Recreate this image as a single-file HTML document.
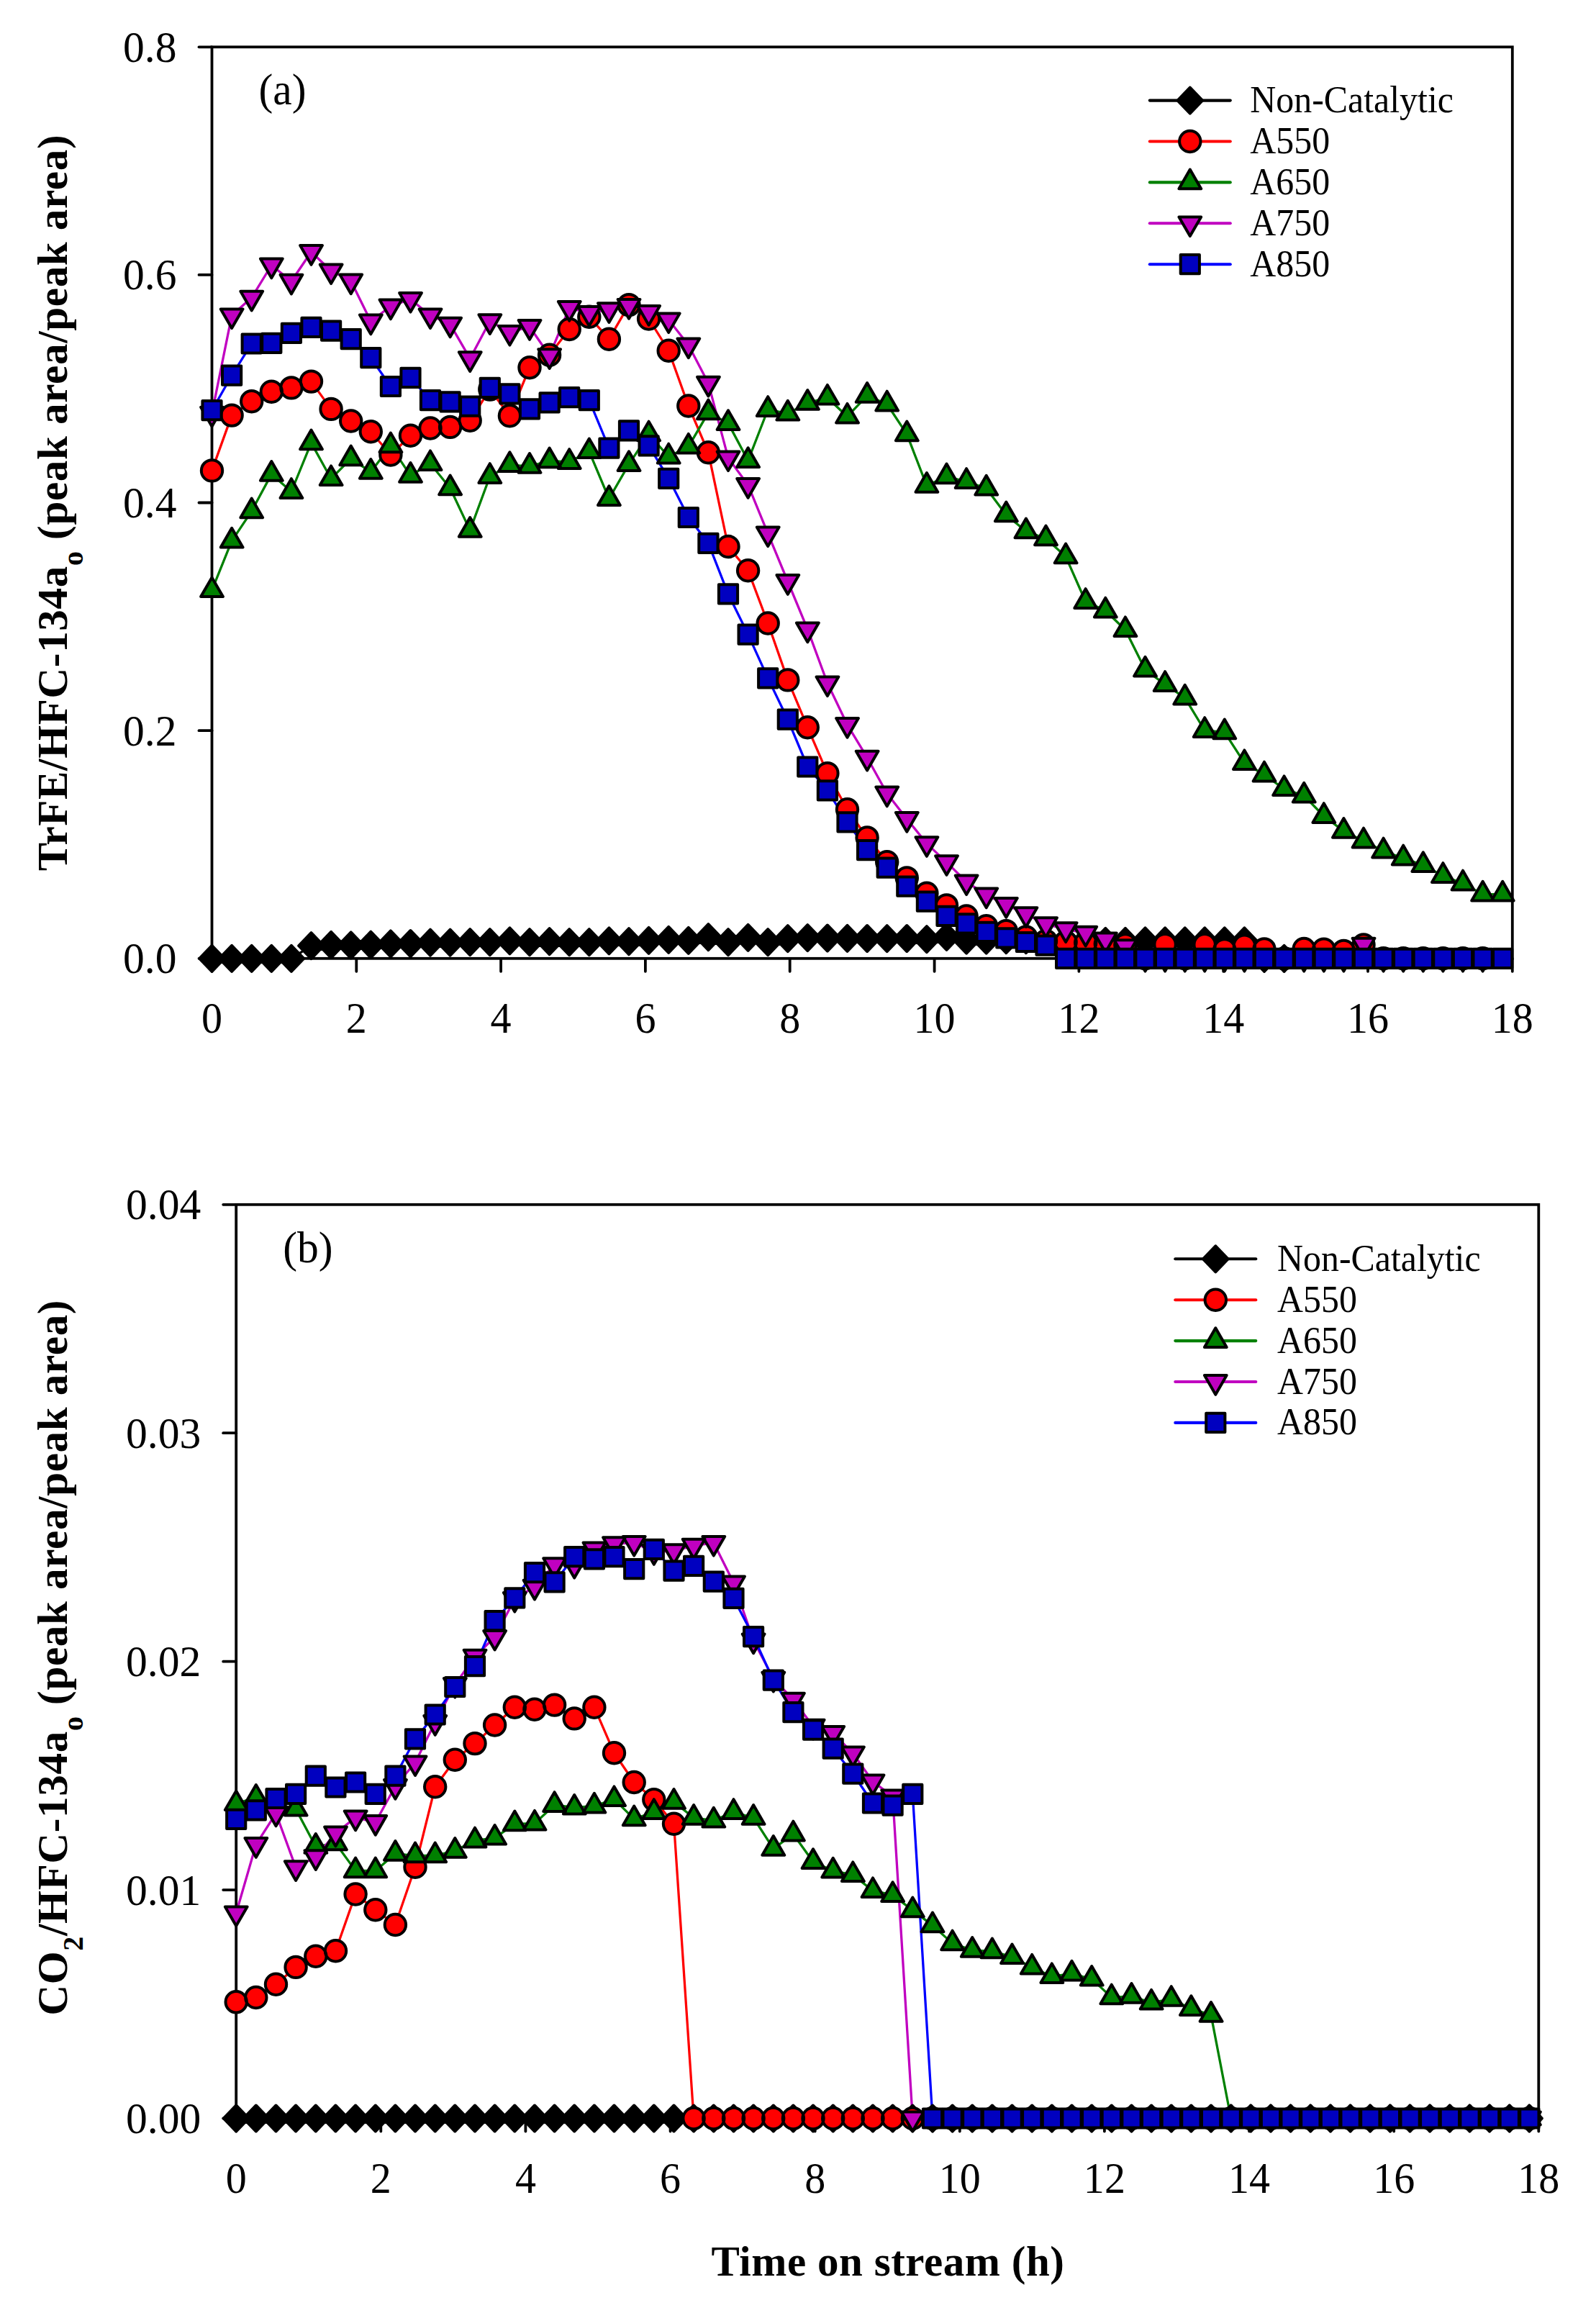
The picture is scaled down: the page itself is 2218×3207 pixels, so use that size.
<!DOCTYPE html>
<html lang="en">
<head>
<meta charset="utf-8">
<title>TrFE and CO2 formation versus time on stream</title>
<style>
html,body{margin:0;padding:0;background:#fff;}
body{width:2218px;height:3207px;overflow:hidden;}
svg{display:block;font-family:"Liberation Serif",serif;fill:#000;}
</style>
</head>
<body>
<svg width="2218" height="3207" viewBox="0 0 2218 3207">
<rect x="0" y="0" width="2218" height="3207" fill="#fff"/>
<g stroke="#000" stroke-width="3.8" fill="none" stroke-linecap="round">
<rect x="294.5" y="65.3" width="1807.3" height="1266.5"/>
<line x1="276.5" y1="1331.8" x2="294.5" y2="1331.8"/>
<line x1="276.5" y1="1015.2" x2="294.5" y2="1015.2"/>
<line x1="276.5" y1="698.5" x2="294.5" y2="698.5"/>
<line x1="276.5" y1="381.9" x2="294.5" y2="381.9"/>
<line x1="276.5" y1="65.3" x2="294.5" y2="65.3"/>
<line x1="294.5" y1="1331.8" x2="294.5" y2="1349.8"/>
<line x1="495.3" y1="1331.8" x2="495.3" y2="1349.8"/>
<line x1="696.1" y1="1331.8" x2="696.1" y2="1349.8"/>
<line x1="896.9" y1="1331.8" x2="896.9" y2="1349.8"/>
<line x1="1097.7" y1="1331.8" x2="1097.7" y2="1349.8"/>
<line x1="1298.6" y1="1331.8" x2="1298.6" y2="1349.8"/>
<line x1="1499.4" y1="1331.8" x2="1499.4" y2="1349.8"/>
<line x1="1700.2" y1="1331.8" x2="1700.2" y2="1349.8"/>
<line x1="1901" y1="1331.8" x2="1901" y2="1349.8"/>
<line x1="2101.8" y1="1331.8" x2="2101.8" y2="1349.8"/>
</g>
<g font-size="57.5">
<text transform="translate(245.5 1352.3) scale(1.035 1.07)" text-anchor="end">0.0</text>
<text transform="translate(245.5 1035.7) scale(1.035 1.07)" text-anchor="end">0.2</text>
<text transform="translate(245.5 719) scale(1.035 1.07)" text-anchor="end">0.4</text>
<text transform="translate(245.5 402.4) scale(1.035 1.07)" text-anchor="end">0.6</text>
<text transform="translate(245.5 85.8) scale(1.035 1.07)" text-anchor="end">0.8</text>
<text transform="translate(294.5 1435.3) scale(1.01 1.07)" text-anchor="middle">0</text>
<text transform="translate(495.3 1435.3) scale(1.01 1.07)" text-anchor="middle">2</text>
<text transform="translate(696.1 1435.3) scale(1.01 1.07)" text-anchor="middle">4</text>
<text transform="translate(896.9 1435.3) scale(1.01 1.07)" text-anchor="middle">6</text>
<text transform="translate(1097.7 1435.3) scale(1.01 1.07)" text-anchor="middle">8</text>
<text transform="translate(1298.6 1435.3) scale(1.01 1.07)" text-anchor="middle">10</text>
<text transform="translate(1499.4 1435.3) scale(1.01 1.07)" text-anchor="middle">12</text>
<text transform="translate(1700.2 1435.3) scale(1.01 1.07)" text-anchor="middle">14</text>
<text transform="translate(1901 1435.3) scale(1.01 1.07)" text-anchor="middle">16</text>
<text transform="translate(2101.8 1435.3) scale(1.01 1.07)" text-anchor="middle">18</text>
<text transform="translate(359.5 145.3) scale(1.035 1.07)">(a)</text>
</g>
<text transform="translate(92.5,698.5) rotate(-90)" text-anchor="middle" font-weight="bold" font-size="59" letter-spacing="0.7"><tspan>TrFE/HFC-134a</tspan><tspan dy="22.5" font-size="40">o</tspan><tspan dy="-22.5"> (peak area/peak area)</tspan></text>
<polyline points="294.5,1331.8 322.1,1331.8 349.7,1331.8 377.3,1331.8 404.9,1331.8 432.5,1314.2 460.1,1312.8 487.7,1313.4 515.3,1312.7 542.9,1311.4 570.5,1311 598,1309.7 625.6,1309.7 653.2,1309.1 680.8,1309.1 708.4,1307.3 736,1309.1 763.6,1308.2 791.2,1309.1 818.8,1309.1 846.4,1307.3 874,1308.2 901.6,1306.9 929.2,1305.9 956.8,1306.9 984.4,1302.2 1012,1309.1 1039.6,1302.9 1067.2,1309.1 1094.8,1304.1 1122.3,1303.1 1149.9,1303.5 1177.5,1303.8 1205.1,1304 1232.7,1304.1 1260.3,1304 1287.9,1305.1 1315.5,1301.9 1343.1,1306.6 1370.7,1306.6 1398.3,1306.2 1425.9,1306.2 1453.5,1306.5 1481.1,1306.5 1508.7,1307 1536.3,1307.8 1563.9,1307.8 1591.5,1307.3 1619.1,1307.3 1646.7,1307.3 1674.2,1307.3 1701.8,1307.3 1729.4,1307.3 1757,1331.8 1784.6,1331.8" fill="none" stroke="#000000" stroke-width="3.3" stroke-linejoin="round" stroke-linecap="round"/>
<polyline points="294.5,653.9 322.1,577.1 349.7,557.7 377.3,544.2 404.9,538.9 432.5,530.1 460.1,568.4 487.7,585 515.3,599.7 542.9,632 570.5,605.3 598,595 625.6,593.4 653.2,584.3 680.8,541.1 708.4,577.8 736,510.7 763.6,493.2 791.2,457.5 818.8,440.2 846.4,471.2 874,423.6 901.6,443 929.2,487.2 956.8,564 984.4,628.8 1012,759.5 1039.6,792.7 1067.2,866 1094.8,944.9 1122.3,1010.7 1149.9,1074.6 1177.5,1124.7 1205.1,1163.9 1232.7,1197.7 1260.3,1219.9 1287.9,1241.2 1315.5,1257.9 1343.1,1273 1370.7,1286.7 1398.3,1293.6 1425.9,1302 1453.5,1307.4 1481.1,1309.1 1508.7,1310 1536.3,1311.5 1563.9,1313 1591.5,1331.8 1619.1,1312.6 1646.7,1331.8 1674.2,1312.8 1701.8,1319.9 1729.4,1314.2 1757,1318.9 1784.6,1331.8 1812.2,1318.5 1839.8,1319.1 1867.4,1321.4 1895,1313 1922.6,1331.8 1950.2,1331.8 1977.8,1331.8 2005.4,1331.8 2033,1331.8 2060.6,1331.8" fill="none" stroke="#ff0000" stroke-width="3.3" stroke-linejoin="round" stroke-linecap="round"/>
<polyline points="294.5,820.2 322.1,751.6 349.7,710.3 377.3,658.9 404.9,683 432.5,615.4 460.1,665.2 487.7,637.3 515.3,655.8 542.9,619.4 570.5,660.8 598,644.2 625.6,678.3 653.2,736.9 680.8,662 708.4,646.1 736,647.9 763.6,640.4 791.2,642 818.8,627.3 846.4,693 874,645.1 901.6,603.4 929.2,634.5 956.8,620.7 984.4,573.4 1012,588.1 1039.6,640.1 1067.2,569 1094.8,574.6 1122.3,559.9 1149.9,552.7 1177.5,578.7 1205.1,549.9 1232.7,561.5 1260.3,603.4 1287.9,674.8 1315.5,662.3 1343.1,669 1370.7,678.6 1398.3,715.4 1425.9,738.3 1453.5,748.3 1481.1,773.4 1508.7,836 1536.3,848.5 1563.9,875.2 1591.5,930.6 1619.1,951 1646.7,969.6 1674.2,1015 1701.8,1017.3 1729.4,1060.2 1757,1076.5 1784.6,1096.2 1812.2,1105.6 1839.8,1134 1867.4,1154.9 1895,1168.5 1922.6,1182.5 1950.2,1192.5 1977.8,1202.1 2005.4,1217 2033,1227.5 2060.6,1242.6 2088.2,1242.6" fill="none" stroke="#008000" stroke-width="3.3" stroke-linejoin="round" stroke-linecap="round"/>
<polyline points="294.5,574.6 322.1,438.3 349.7,413.6 377.3,368.5 404.9,390.7 432.5,350 460.1,376.3 487.7,390.4 515.3,446.5 542.9,425.5 570.5,415.8 598,438.3 625.6,450.6 653.2,498.2 680.8,446.2 708.4,461.8 736,454 763.6,494.1 791.2,428 818.8,434.9 846.4,430.2 874,424.9 901.6,434 929.2,444.3 956.8,479.4 984.4,532.6 1012,636.3 1039.6,673.9 1067.2,741.3 1094.8,808 1122.3,874.4 1149.9,949.3 1177.5,1007 1205.1,1052.7 1232.7,1102.5 1260.3,1137.9 1287.9,1172.1 1315.5,1198.1 1343.1,1225.3 1370.7,1243.5 1398.3,1257 1425.9,1270.1 1453.5,1284.2 1481.1,1291.2 1508.7,1296.7 1536.3,1305.5 1563.9,1315.1 1591.5,1331.8 1619.1,1331.8 1646.7,1331.8 1674.2,1331.8 1701.8,1331.8 1729.4,1331.8 1757,1331.8 1784.6,1331.8 1812.2,1331.8 1839.8,1331.8 1867.4,1331.8 1895,1312.6 1922.6,1331.8 1950.2,1331.8 1977.8,1331.8 2005.4,1331.8 2033,1331.8 2060.6,1331.8" fill="none" stroke="#c000c0" stroke-width="3.3" stroke-linejoin="round" stroke-linecap="round"/>
<polyline points="294.5,570.2 322.1,521.7 349.7,477.5 377.3,476.9 404.9,462.8 432.5,454.9 460.1,459.6 487.7,471.2 515.3,497.2 542.9,537 570.5,524.8 598,556.1 625.6,558.3 653.2,564.6 680.8,538.9 708.4,547.4 736,568.4 763.6,559.3 791.2,552.1 818.8,556.1 846.4,622.6 874,598.4 901.6,619.4 929.2,664.8 956.8,719 984.4,754.8 1012,825.3 1039.6,881.6 1067.2,942.4 1094.8,999.7 1122.3,1065.5 1149.9,1098.4 1177.5,1142.3 1205.1,1181.1 1232.7,1205.6 1260.3,1231.6 1287.9,1252.6 1315.5,1272.9 1343.1,1283.3 1370.7,1294.9 1398.3,1303.3 1425.9,1309 1453.5,1313.7 1481.1,1331.8 1508.7,1331.8 1536.3,1331.8 1563.9,1331.8 1591.5,1331.8 1619.1,1331.8 1646.7,1331.8 1674.2,1331.8 1701.8,1331.8 1729.4,1331.8 1757,1331.8 1784.6,1331.8 1812.2,1331.8 1839.8,1331.8 1867.4,1331.8 1895,1331.8 1922.6,1331.8 1950.2,1331.8 1977.8,1331.8 2005.4,1331.8 2033,1331.8 2060.6,1331.8 2088.2,1331.8" fill="none" stroke="#0000ff" stroke-width="3.3" stroke-linejoin="round" stroke-linecap="round"/>
<path d="M294.5 1313.8L311.8 1331.8L294.5 1349.8L277.2 1331.8ZM322.1 1313.8L339.4 1331.8L322.1 1349.8L304.8 1331.8ZM349.7 1313.8L367 1331.8L349.7 1349.8L332.4 1331.8ZM377.3 1313.8L394.6 1331.8L377.3 1349.8L360 1331.8ZM404.9 1313.8L422.2 1331.8L404.9 1349.8L387.6 1331.8ZM432.5 1296.2L449.8 1314.2L432.5 1332.2L415.2 1314.2ZM460.1 1294.8L477.4 1312.8L460.1 1330.8L442.8 1312.8ZM487.7 1295.4L505 1313.4L487.7 1331.4L470.4 1313.4ZM515.3 1294.7L532.6 1312.7L515.3 1330.7L498 1312.7ZM542.9 1293.4L560.2 1311.4L542.9 1329.4L525.6 1311.4ZM570.5 1293L587.8 1311L570.5 1329L553.2 1311ZM598 1291.7L615.3 1309.7L598 1327.7L580.7 1309.7ZM625.6 1291.7L642.9 1309.7L625.6 1327.7L608.3 1309.7ZM653.2 1291.1L670.5 1309.1L653.2 1327.1L635.9 1309.1ZM680.8 1291.1L698.1 1309.1L680.8 1327.1L663.5 1309.1ZM708.4 1289.3L725.7 1307.3L708.4 1325.3L691.1 1307.3ZM736 1291.1L753.3 1309.1L736 1327.1L718.7 1309.1ZM763.6 1290.2L780.9 1308.2L763.6 1326.2L746.3 1308.2ZM791.2 1291.1L808.5 1309.1L791.2 1327.1L773.9 1309.1ZM818.8 1291.1L836.1 1309.1L818.8 1327.1L801.5 1309.1ZM846.4 1289.3L863.7 1307.3L846.4 1325.3L829.1 1307.3ZM874 1290.2L891.3 1308.2L874 1326.2L856.7 1308.2ZM901.6 1288.9L918.9 1306.9L901.6 1324.9L884.3 1306.9ZM929.2 1287.9L946.5 1305.9L929.2 1323.9L911.9 1305.9ZM956.8 1288.9L974.1 1306.9L956.8 1324.9L939.5 1306.9ZM984.4 1284.2L1001.7 1302.2L984.4 1320.2L967.1 1302.2ZM1012 1291.1L1029.3 1309.1L1012 1327.1L994.7 1309.1ZM1039.6 1284.9L1056.9 1302.9L1039.6 1320.9L1022.3 1302.9ZM1067.2 1291.1L1084.5 1309.1L1067.2 1327.1L1049.9 1309.1ZM1094.8 1286.1L1112.1 1304.1L1094.8 1322.1L1077.5 1304.1ZM1122.3 1285.1L1139.6 1303.1L1122.3 1321.1L1105 1303.1ZM1149.9 1285.5L1167.2 1303.5L1149.9 1321.5L1132.6 1303.5ZM1177.5 1285.8L1194.8 1303.8L1177.5 1321.8L1160.2 1303.8ZM1205.1 1286L1222.4 1304L1205.1 1322L1187.8 1304ZM1232.7 1286.1L1250 1304.1L1232.7 1322.1L1215.4 1304.1ZM1260.3 1286L1277.6 1304L1260.3 1322L1243 1304ZM1287.9 1287.1L1305.2 1305.1L1287.9 1323.1L1270.6 1305.1ZM1315.5 1283.9L1332.8 1301.9L1315.5 1319.9L1298.2 1301.9ZM1343.1 1288.6L1360.4 1306.6L1343.1 1324.6L1325.8 1306.6ZM1370.7 1288.6L1388 1306.6L1370.7 1324.6L1353.4 1306.6ZM1398.3 1288.2L1415.6 1306.2L1398.3 1324.2L1381 1306.2ZM1425.9 1288.2L1443.2 1306.2L1425.9 1324.2L1408.6 1306.2ZM1453.5 1288.5L1470.8 1306.5L1453.5 1324.5L1436.2 1306.5ZM1481.1 1288.5L1498.4 1306.5L1481.1 1324.5L1463.8 1306.5ZM1508.7 1289L1526 1307L1508.7 1325L1491.4 1307ZM1536.3 1289.8L1553.6 1307.8L1536.3 1325.8L1519 1307.8ZM1563.9 1289.8L1581.2 1307.8L1563.9 1325.8L1546.6 1307.8ZM1591.5 1289.3L1608.8 1307.3L1591.5 1325.3L1574.2 1307.3ZM1619.1 1289.3L1636.4 1307.3L1619.1 1325.3L1601.8 1307.3ZM1646.7 1289.3L1664 1307.3L1646.7 1325.3L1629.4 1307.3ZM1674.2 1289.3L1691.5 1307.3L1674.2 1325.3L1657 1307.3ZM1701.8 1289.3L1719.1 1307.3L1701.8 1325.3L1684.5 1307.3ZM1729.4 1289.3L1746.7 1307.3L1729.4 1325.3L1712.1 1307.3ZM1757 1313.8L1774.3 1331.8L1757 1349.8L1739.7 1331.8ZM1784.6 1313.8L1801.9 1331.8L1784.6 1349.8L1767.3 1331.8Z" fill="#000000" stroke="#000" stroke-width="4.0" stroke-linejoin="round"/>
<path d="M279.8 653.9a14.7 14.7 0 1 0 29.4 0a14.7 14.7 0 1 0 -29.4 0ZM307.4 577.1a14.7 14.7 0 1 0 29.4 0a14.7 14.7 0 1 0 -29.4 0ZM335 557.7a14.7 14.7 0 1 0 29.4 0a14.7 14.7 0 1 0 -29.4 0ZM362.6 544.2a14.7 14.7 0 1 0 29.4 0a14.7 14.7 0 1 0 -29.4 0ZM390.2 538.9a14.7 14.7 0 1 0 29.4 0a14.7 14.7 0 1 0 -29.4 0ZM417.8 530.1a14.7 14.7 0 1 0 29.4 0a14.7 14.7 0 1 0 -29.4 0ZM445.4 568.4a14.7 14.7 0 1 0 29.4 0a14.7 14.7 0 1 0 -29.4 0ZM473 585a14.7 14.7 0 1 0 29.4 0a14.7 14.7 0 1 0 -29.4 0ZM500.6 599.7a14.7 14.7 0 1 0 29.4 0a14.7 14.7 0 1 0 -29.4 0ZM528.2 632a14.7 14.7 0 1 0 29.4 0a14.7 14.7 0 1 0 -29.4 0ZM555.8 605.3a14.7 14.7 0 1 0 29.4 0a14.7 14.7 0 1 0 -29.4 0ZM583.3 595a14.7 14.7 0 1 0 29.4 0a14.7 14.7 0 1 0 -29.4 0ZM610.9 593.4a14.7 14.7 0 1 0 29.4 0a14.7 14.7 0 1 0 -29.4 0ZM638.5 584.3a14.7 14.7 0 1 0 29.4 0a14.7 14.7 0 1 0 -29.4 0ZM666.1 541.1a14.7 14.7 0 1 0 29.4 0a14.7 14.7 0 1 0 -29.4 0ZM693.7 577.8a14.7 14.7 0 1 0 29.4 0a14.7 14.7 0 1 0 -29.4 0ZM721.3 510.7a14.7 14.7 0 1 0 29.4 0a14.7 14.7 0 1 0 -29.4 0ZM748.9 493.2a14.7 14.7 0 1 0 29.4 0a14.7 14.7 0 1 0 -29.4 0ZM776.5 457.5a14.7 14.7 0 1 0 29.4 0a14.7 14.7 0 1 0 -29.4 0ZM804.1 440.2a14.7 14.7 0 1 0 29.4 0a14.7 14.7 0 1 0 -29.4 0ZM831.7 471.2a14.7 14.7 0 1 0 29.4 0a14.7 14.7 0 1 0 -29.4 0ZM859.3 423.6a14.7 14.7 0 1 0 29.4 0a14.7 14.7 0 1 0 -29.4 0ZM886.9 443a14.7 14.7 0 1 0 29.4 0a14.7 14.7 0 1 0 -29.4 0ZM914.5 487.2a14.7 14.7 0 1 0 29.4 0a14.7 14.7 0 1 0 -29.4 0ZM942.1 564a14.7 14.7 0 1 0 29.4 0a14.7 14.7 0 1 0 -29.4 0ZM969.7 628.8a14.7 14.7 0 1 0 29.4 0a14.7 14.7 0 1 0 -29.4 0ZM997.3 759.5a14.7 14.7 0 1 0 29.4 0a14.7 14.7 0 1 0 -29.4 0ZM1024.9 792.7a14.7 14.7 0 1 0 29.4 0a14.7 14.7 0 1 0 -29.4 0ZM1052.5 866a14.7 14.7 0 1 0 29.4 0a14.7 14.7 0 1 0 -29.4 0ZM1080.1 944.9a14.7 14.7 0 1 0 29.4 0a14.7 14.7 0 1 0 -29.4 0ZM1107.6 1010.7a14.7 14.7 0 1 0 29.4 0a14.7 14.7 0 1 0 -29.4 0ZM1135.2 1074.6a14.7 14.7 0 1 0 29.4 0a14.7 14.7 0 1 0 -29.4 0ZM1162.8 1124.7a14.7 14.7 0 1 0 29.4 0a14.7 14.7 0 1 0 -29.4 0ZM1190.4 1163.9a14.7 14.7 0 1 0 29.4 0a14.7 14.7 0 1 0 -29.4 0ZM1218 1197.7a14.7 14.7 0 1 0 29.4 0a14.7 14.7 0 1 0 -29.4 0ZM1245.6 1219.9a14.7 14.7 0 1 0 29.4 0a14.7 14.7 0 1 0 -29.4 0ZM1273.2 1241.2a14.7 14.7 0 1 0 29.4 0a14.7 14.7 0 1 0 -29.4 0ZM1300.8 1257.9a14.7 14.7 0 1 0 29.4 0a14.7 14.7 0 1 0 -29.4 0ZM1328.4 1273a14.7 14.7 0 1 0 29.4 0a14.7 14.7 0 1 0 -29.4 0ZM1356 1286.7a14.7 14.7 0 1 0 29.4 0a14.7 14.7 0 1 0 -29.4 0ZM1383.6 1293.6a14.7 14.7 0 1 0 29.4 0a14.7 14.7 0 1 0 -29.4 0ZM1411.2 1302a14.7 14.7 0 1 0 29.4 0a14.7 14.7 0 1 0 -29.4 0ZM1438.8 1307.4a14.7 14.7 0 1 0 29.4 0a14.7 14.7 0 1 0 -29.4 0ZM1466.4 1309.1a14.7 14.7 0 1 0 29.4 0a14.7 14.7 0 1 0 -29.4 0ZM1494 1310a14.7 14.7 0 1 0 29.4 0a14.7 14.7 0 1 0 -29.4 0ZM1521.6 1311.5a14.7 14.7 0 1 0 29.4 0a14.7 14.7 0 1 0 -29.4 0ZM1549.2 1313a14.7 14.7 0 1 0 29.4 0a14.7 14.7 0 1 0 -29.4 0ZM1576.8 1331.8a14.7 14.7 0 1 0 29.4 0a14.7 14.7 0 1 0 -29.4 0ZM1604.4 1312.6a14.7 14.7 0 1 0 29.4 0a14.7 14.7 0 1 0 -29.4 0ZM1632 1331.8a14.7 14.7 0 1 0 29.4 0a14.7 14.7 0 1 0 -29.4 0ZM1659.5 1312.8a14.7 14.7 0 1 0 29.4 0a14.7 14.7 0 1 0 -29.4 0ZM1687.1 1319.9a14.7 14.7 0 1 0 29.4 0a14.7 14.7 0 1 0 -29.4 0ZM1714.7 1314.2a14.7 14.7 0 1 0 29.4 0a14.7 14.7 0 1 0 -29.4 0ZM1742.3 1318.9a14.7 14.7 0 1 0 29.4 0a14.7 14.7 0 1 0 -29.4 0ZM1769.9 1331.8a14.7 14.7 0 1 0 29.4 0a14.7 14.7 0 1 0 -29.4 0ZM1797.5 1318.5a14.7 14.7 0 1 0 29.4 0a14.7 14.7 0 1 0 -29.4 0ZM1825.1 1319.1a14.7 14.7 0 1 0 29.4 0a14.7 14.7 0 1 0 -29.4 0ZM1852.7 1321.4a14.7 14.7 0 1 0 29.4 0a14.7 14.7 0 1 0 -29.4 0ZM1880.3 1313a14.7 14.7 0 1 0 29.4 0a14.7 14.7 0 1 0 -29.4 0ZM1907.9 1331.8a14.7 14.7 0 1 0 29.4 0a14.7 14.7 0 1 0 -29.4 0ZM1935.5 1331.8a14.7 14.7 0 1 0 29.4 0a14.7 14.7 0 1 0 -29.4 0ZM1963.1 1331.8a14.7 14.7 0 1 0 29.4 0a14.7 14.7 0 1 0 -29.4 0ZM1990.7 1331.8a14.7 14.7 0 1 0 29.4 0a14.7 14.7 0 1 0 -29.4 0ZM2018.3 1331.8a14.7 14.7 0 1 0 29.4 0a14.7 14.7 0 1 0 -29.4 0ZM2045.9 1331.8a14.7 14.7 0 1 0 29.4 0a14.7 14.7 0 1 0 -29.4 0Z" fill="#ff0000" stroke="#000" stroke-width="4.0" stroke-linejoin="round"/>
<path d="M294.5 802.5L309.9 829.1L279.1 829.1ZM322.1 733.8L337.5 760.5L306.7 760.5ZM349.7 692.5L365.1 719.2L334.3 719.2ZM377.3 641.1L392.7 667.8L361.9 667.8ZM404.9 665.2L420.3 691.9L389.5 691.9ZM432.5 597.6L447.9 624.2L417.1 624.2ZM460.1 647.4L475.5 674.1L444.7 674.1ZM487.7 619.5L503.1 646.2L472.3 646.2ZM515.3 638L530.7 664.7L499.9 664.7ZM542.9 601.6L558.3 628.3L527.5 628.3ZM570.5 643L585.9 669.7L555.1 669.7ZM598 626.4L613.4 653.1L582.6 653.1ZM625.6 660.5L641 687.2L610.2 687.2ZM653.2 719.1L668.6 745.8L637.8 745.8ZM680.8 644.2L696.2 670.9L665.4 670.9ZM708.4 628.3L723.8 654.9L693 654.9ZM736 630.1L751.4 656.8L720.6 656.8ZM763.6 622.6L779 649.3L748.2 649.3ZM791.2 624.2L806.6 650.9L775.8 650.9ZM818.8 609.5L834.2 636.1L803.4 636.1ZM846.4 675.3L861.8 701.9L831 701.9ZM874 627.3L889.4 654L858.6 654ZM901.6 585.7L917 612.3L886.2 612.3ZM929.2 616.7L944.6 643.4L913.8 643.4ZM956.8 602.9L972.2 629.6L941.4 629.6ZM984.4 555.6L999.8 582.3L969 582.3ZM1012 570.3L1027.4 597L996.6 597ZM1039.6 622.3L1055 649L1024.2 649ZM1067.2 551.2L1082.6 577.9L1051.8 577.9ZM1094.8 556.8L1110.2 583.5L1079.4 583.5ZM1122.3 542.1L1137.8 568.8L1106.9 568.8ZM1149.9 534.9L1165.3 561.6L1134.5 561.6ZM1177.5 560.9L1192.9 587.6L1162.1 587.6ZM1205.1 532.1L1220.5 558.8L1189.7 558.8ZM1232.7 543.7L1248.1 570.4L1217.3 570.4ZM1260.3 585.6L1275.7 612.3L1244.9 612.3ZM1287.9 657L1303.3 683.7L1272.5 683.7ZM1315.5 644.5L1330.9 671.2L1300.1 671.2ZM1343.1 651.2L1358.5 677.9L1327.7 677.9ZM1370.7 660.8L1386.1 687.5L1355.3 687.5ZM1398.3 697.6L1413.7 724.3L1382.9 724.3ZM1425.9 720.5L1441.3 747.2L1410.5 747.2ZM1453.5 730.5L1468.9 757.2L1438.1 757.2ZM1481.1 755.6L1496.5 782.3L1465.7 782.3ZM1508.7 818.2L1524.1 844.9L1493.3 844.9ZM1536.3 830.7L1551.7 857.4L1520.9 857.4ZM1563.9 857.4L1579.3 884.1L1548.5 884.1ZM1591.5 912.8L1606.9 939.5L1576.1 939.5ZM1619.1 933.2L1634.5 959.9L1603.7 959.9ZM1646.7 951.8L1662.1 978.5L1631.3 978.5ZM1674.2 997.2L1689.7 1023.9L1658.8 1023.9ZM1701.8 999.5L1717.2 1026.2L1686.4 1026.2ZM1729.4 1042.4L1744.8 1069.1L1714 1069.1ZM1757 1058.7L1772.4 1085.4L1741.6 1085.4ZM1784.6 1078.4L1800 1105.1L1769.2 1105.1ZM1812.2 1087.8L1827.6 1114.5L1796.8 1114.5ZM1839.8 1116.2L1855.2 1142.9L1824.4 1142.9ZM1867.4 1137.1L1882.8 1163.8L1852 1163.8ZM1895 1150.7L1910.4 1177.4L1879.6 1177.4ZM1922.6 1164.7L1938 1191.4L1907.2 1191.4ZM1950.2 1174.7L1965.6 1201.4L1934.8 1201.4ZM1977.8 1184.3L1993.2 1211L1962.4 1211ZM2005.4 1199.2L2020.8 1225.9L1990 1225.9ZM2033 1209.7L2048.4 1236.4L2017.6 1236.4ZM2060.6 1224.8L2076 1251.5L2045.2 1251.5ZM2088.2 1224.8L2103.6 1251.5L2072.8 1251.5Z" fill="#008000" stroke="#000" stroke-width="4.0" stroke-linejoin="round"/>
<path d="M294.5 592.4L309.9 565.7L279.1 565.7ZM322.1 456.1L337.5 429.5L306.7 429.5ZM349.7 431.4L365.1 404.7L334.3 404.7ZM377.3 386.3L392.7 359.6L361.9 359.6ZM404.9 408.5L420.3 381.8L389.5 381.8ZM432.5 367.8L447.9 341.1L417.1 341.1ZM460.1 394.1L475.5 367.4L444.7 367.4ZM487.7 408.2L503.1 381.5L472.3 381.5ZM515.3 464.3L530.7 437.6L499.9 437.6ZM542.9 443.3L558.3 416.6L527.5 416.6ZM570.5 433.6L585.9 406.9L555.1 406.9ZM598 456.1L613.4 429.5L582.6 429.5ZM625.6 468.3L641 441.7L610.2 441.7ZM653.2 516L668.6 489.3L637.8 489.3ZM680.8 464L696.2 437.3L665.4 437.3ZM708.4 479.6L723.8 453L693 453ZM736 471.8L751.4 445.1L720.6 445.1ZM763.6 511.9L779 485.2L748.2 485.2ZM791.2 445.8L806.6 419.1L775.8 419.1ZM818.8 452.7L834.2 426L803.4 426ZM846.4 448L861.8 421.3L831 421.3ZM874 442.7L889.4 416L858.6 416ZM901.6 451.7L917 425.1L886.2 425.1ZM929.2 462.1L944.6 435.4L913.8 435.4ZM956.8 497.2L972.2 470.5L941.4 470.5ZM984.4 550.4L999.8 523.8L969 523.8ZM1012 654.1L1027.4 627.4L996.6 627.4ZM1039.6 691.7L1055 665L1024.2 665ZM1067.2 759.1L1082.6 732.4L1051.8 732.4ZM1094.8 825.8L1110.2 799.1L1079.4 799.1ZM1122.3 892.2L1137.8 865.5L1106.9 865.5ZM1149.9 967.1L1165.3 940.4L1134.5 940.4ZM1177.5 1024.7L1192.9 998.1L1162.1 998.1ZM1205.1 1070.5L1220.5 1043.8L1189.7 1043.8ZM1232.7 1120.3L1248.1 1093.6L1217.3 1093.6ZM1260.3 1155.7L1275.7 1129L1244.9 1129ZM1287.9 1189.8L1303.3 1163.2L1272.5 1163.2ZM1315.5 1215.8L1330.9 1189.2L1300.1 1189.2ZM1343.1 1243.1L1358.5 1216.4L1327.7 1216.4ZM1370.7 1261.3L1386.1 1234.6L1355.3 1234.6ZM1398.3 1274.7L1413.7 1248.1L1382.9 1248.1ZM1425.9 1287.9L1441.3 1261.2L1410.5 1261.2ZM1453.5 1302L1468.9 1275.3L1438.1 1275.3ZM1481.1 1309L1496.5 1282.3L1465.7 1282.3ZM1508.7 1314.5L1524.1 1287.8L1493.3 1287.8ZM1536.3 1323.3L1551.7 1296.6L1520.9 1296.6ZM1563.9 1332.9L1579.3 1306.2L1548.5 1306.2ZM1591.5 1349.6L1606.9 1322.9L1576.1 1322.9ZM1619.1 1349.6L1634.5 1322.9L1603.7 1322.9ZM1646.7 1349.6L1662.1 1322.9L1631.3 1322.9ZM1674.2 1349.6L1689.7 1322.9L1658.8 1322.9ZM1701.8 1349.6L1717.2 1322.9L1686.4 1322.9ZM1729.4 1349.6L1744.8 1322.9L1714 1322.9ZM1757 1349.6L1772.4 1322.9L1741.6 1322.9ZM1784.6 1349.6L1800 1322.9L1769.2 1322.9ZM1812.2 1349.6L1827.6 1322.9L1796.8 1322.9ZM1839.8 1349.6L1855.2 1322.9L1824.4 1322.9ZM1867.4 1349.6L1882.8 1322.9L1852 1322.9ZM1895 1330.4L1910.4 1303.7L1879.6 1303.7ZM1922.6 1349.6L1938 1322.9L1907.2 1322.9ZM1950.2 1349.6L1965.6 1322.9L1934.8 1322.9ZM1977.8 1349.6L1993.2 1322.9L1962.4 1322.9ZM2005.4 1349.6L2020.8 1322.9L1990 1322.9ZM2033 1349.6L2048.4 1322.9L2017.6 1322.9ZM2060.6 1349.6L2076 1322.9L2045.2 1322.9Z" fill="#c000c0" stroke="#000" stroke-width="4.0" stroke-linejoin="round"/>
<path d="M281.4 557.1h26.2v26.2h-26.2ZM309 508.6h26.2v26.2h-26.2ZM336.6 464.4h26.2v26.2h-26.2ZM364.2 463.8h26.2v26.2h-26.2ZM391.8 449.7h26.2v26.2h-26.2ZM419.4 441.8h26.2v26.2h-26.2ZM447 446.5h26.2v26.2h-26.2ZM474.6 458.1h26.2v26.2h-26.2ZM502.2 484.1h26.2v26.2h-26.2ZM529.8 523.9h26.2v26.2h-26.2ZM557.4 511.7h26.2v26.2h-26.2ZM584.9 543h26.2v26.2h-26.2ZM612.5 545.2h26.2v26.2h-26.2ZM640.1 551.5h26.2v26.2h-26.2ZM667.7 525.8h26.2v26.2h-26.2ZM695.3 534.3h26.2v26.2h-26.2ZM722.9 555.3h26.2v26.2h-26.2ZM750.5 546.2h26.2v26.2h-26.2ZM778.1 539h26.2v26.2h-26.2ZM805.7 543h26.2v26.2h-26.2ZM833.3 609.5h26.2v26.2h-26.2ZM860.9 585.3h26.2v26.2h-26.2ZM888.5 606.3h26.2v26.2h-26.2ZM916.1 651.7h26.2v26.2h-26.2ZM943.7 705.9h26.2v26.2h-26.2ZM971.3 741.7h26.2v26.2h-26.2ZM998.9 812.2h26.2v26.2h-26.2ZM1026.5 868.5h26.2v26.2h-26.2ZM1054.1 929.3h26.2v26.2h-26.2ZM1081.7 986.6h26.2v26.2h-26.2ZM1109.2 1052.4h26.2v26.2h-26.2ZM1136.8 1085.3h26.2v26.2h-26.2ZM1164.4 1129.2h26.2v26.2h-26.2ZM1192 1168h26.2v26.2h-26.2ZM1219.6 1192.5h26.2v26.2h-26.2ZM1247.2 1218.5h26.2v26.2h-26.2ZM1274.8 1239.5h26.2v26.2h-26.2ZM1302.4 1259.8h26.2v26.2h-26.2ZM1330 1270.2h26.2v26.2h-26.2ZM1357.6 1281.8h26.2v26.2h-26.2ZM1385.2 1290.2h26.2v26.2h-26.2ZM1412.8 1295.9h26.2v26.2h-26.2ZM1440.4 1300.6h26.2v26.2h-26.2ZM1468 1318.7h26.2v26.2h-26.2ZM1495.6 1318.7h26.2v26.2h-26.2ZM1523.2 1318.7h26.2v26.2h-26.2ZM1550.8 1318.7h26.2v26.2h-26.2ZM1578.4 1318.7h26.2v26.2h-26.2ZM1606 1318.7h26.2v26.2h-26.2ZM1633.6 1318.7h26.2v26.2h-26.2ZM1661.2 1318.7h26.2v26.2h-26.2ZM1688.7 1318.7h26.2v26.2h-26.2ZM1716.3 1318.7h26.2v26.2h-26.2ZM1743.9 1318.7h26.2v26.2h-26.2ZM1771.5 1318.7h26.2v26.2h-26.2ZM1799.1 1318.7h26.2v26.2h-26.2ZM1826.7 1318.7h26.2v26.2h-26.2ZM1854.3 1318.7h26.2v26.2h-26.2ZM1881.9 1318.7h26.2v26.2h-26.2ZM1909.5 1318.7h26.2v26.2h-26.2ZM1937.1 1318.7h26.2v26.2h-26.2ZM1964.7 1318.7h26.2v26.2h-26.2ZM1992.3 1318.7h26.2v26.2h-26.2ZM2019.9 1318.7h26.2v26.2h-26.2ZM2047.5 1318.7h26.2v26.2h-26.2ZM2075.1 1318.7h26.2v26.2h-26.2Z" fill="#0000c0" stroke="#000" stroke-width="4.0" stroke-linejoin="round"/>
<g font-size="49.3">
<line x1="1597.8" y1="139.6" x2="1709.8" y2="139.6" stroke="#000000" stroke-width="4.1" stroke-linecap="round"/>
<path d="M1653.8 121.6L1671.1 139.6L1653.8 157.6L1636.5 139.6Z" fill="#000000" stroke="#000" stroke-width="4.0" stroke-linejoin="round"/>
<text transform="translate(1737.3 156.1) scale(1.012 1.05)">Non-Catalytic</text>
<line x1="1597.8" y1="196.5" x2="1709.8" y2="196.5" stroke="#ff0000" stroke-width="4.1" stroke-linecap="round"/>
<path d="M1639.1 196.5a14.7 14.7 0 1 0 29.4 0a14.7 14.7 0 1 0 -29.4 0Z" fill="#ff0000" stroke="#000" stroke-width="4.0" stroke-linejoin="round"/>
<text transform="translate(1737.3 213) scale(1.012 1.05)">A550</text>
<line x1="1597.8" y1="253.4" x2="1709.8" y2="253.4" stroke="#008000" stroke-width="4.1" stroke-linecap="round"/>
<path d="M1653.8 235.6L1669.2 262.3L1638.4 262.3Z" fill="#008000" stroke="#000" stroke-width="4.0" stroke-linejoin="round"/>
<text transform="translate(1737.3 269.9) scale(1.012 1.05)">A650</text>
<line x1="1597.8" y1="310.3" x2="1709.8" y2="310.3" stroke="#c000c0" stroke-width="4.1" stroke-linecap="round"/>
<path d="M1653.8 328.1L1669.2 301.4L1638.4 301.4Z" fill="#c000c0" stroke="#000" stroke-width="4.0" stroke-linejoin="round"/>
<text transform="translate(1737.3 326.8) scale(1.012 1.05)">A750</text>
<line x1="1597.8" y1="367.2" x2="1709.8" y2="367.2" stroke="#0000ff" stroke-width="4.1" stroke-linecap="round"/>
<path d="M1640.7 354.1h26.2v26.2h-26.2Z" fill="#0000c0" stroke="#000" stroke-width="4.0" stroke-linejoin="round"/>
<text transform="translate(1737.3 383.7) scale(1.012 1.05)">A850</text>
</g>
<g stroke="#000" stroke-width="3.8" fill="none" stroke-linecap="round">
<rect x="328.2" y="1673.8" width="1810.1" height="1269.7"/>
<line x1="310.2" y1="2943.5" x2="328.2" y2="2943.5"/>
<line x1="310.2" y1="2626.1" x2="328.2" y2="2626.1"/>
<line x1="310.2" y1="2308.7" x2="328.2" y2="2308.7"/>
<line x1="310.2" y1="1991.2" x2="328.2" y2="1991.2"/>
<line x1="310.2" y1="1673.8" x2="328.2" y2="1673.8"/>
<line x1="328.2" y1="2943.5" x2="328.2" y2="2961.5"/>
<line x1="529.3" y1="2943.5" x2="529.3" y2="2961.5"/>
<line x1="730.4" y1="2943.5" x2="730.4" y2="2961.5"/>
<line x1="931.6" y1="2943.5" x2="931.6" y2="2961.5"/>
<line x1="1132.7" y1="2943.5" x2="1132.7" y2="2961.5"/>
<line x1="1333.8" y1="2943.5" x2="1333.8" y2="2961.5"/>
<line x1="1534.9" y1="2943.5" x2="1534.9" y2="2961.5"/>
<line x1="1736.1" y1="2943.5" x2="1736.1" y2="2961.5"/>
<line x1="1937.2" y1="2943.5" x2="1937.2" y2="2961.5"/>
<line x1="2138.3" y1="2943.5" x2="2138.3" y2="2961.5"/>
</g>
<g font-size="57.5">
<text transform="translate(279.2 2964) scale(1.035 1.07)" text-anchor="end">0.00</text>
<text transform="translate(279.2 2646.6) scale(1.035 1.07)" text-anchor="end">0.01</text>
<text transform="translate(279.2 2329.2) scale(1.035 1.07)" text-anchor="end">0.02</text>
<text transform="translate(279.2 2011.7) scale(1.035 1.07)" text-anchor="end">0.03</text>
<text transform="translate(279.2 1694.3) scale(1.035 1.07)" text-anchor="end">0.04</text>
<text transform="translate(328.2 3047) scale(1.01 1.07)" text-anchor="middle">0</text>
<text transform="translate(529.3 3047) scale(1.01 1.07)" text-anchor="middle">2</text>
<text transform="translate(730.4 3047) scale(1.01 1.07)" text-anchor="middle">4</text>
<text transform="translate(931.6 3047) scale(1.01 1.07)" text-anchor="middle">6</text>
<text transform="translate(1132.7 3047) scale(1.01 1.07)" text-anchor="middle">8</text>
<text transform="translate(1333.8 3047) scale(1.01 1.07)" text-anchor="middle">10</text>
<text transform="translate(1534.9 3047) scale(1.01 1.07)" text-anchor="middle">12</text>
<text transform="translate(1736.1 3047) scale(1.01 1.07)" text-anchor="middle">14</text>
<text transform="translate(1937.2 3047) scale(1.01 1.07)" text-anchor="middle">16</text>
<text transform="translate(2138.3 3047) scale(1.01 1.07)" text-anchor="middle">18</text>
<text transform="translate(393.2 1753.8) scale(1.035 1.07)">(b)</text>
</g>
<text transform="translate(92.5,2303.2) rotate(-90)" text-anchor="middle" font-weight="bold" font-size="59" letter-spacing="0.7"><tspan>CO</tspan><tspan dy="22.5" font-size="40">2</tspan><tspan dy="-22.5">/HFC-134a</tspan><tspan dy="22.5" font-size="40">o</tspan><tspan dy="-22.5"> (peak area/peak area)</tspan></text>
<polyline points="328.2,2943.5 355.8,2943.5 383.5,2943.5 411.1,2943.5 438.8,2943.5 466.4,2943.5 494.1,2943.5 521.8,2943.5 549.4,2943.5 577,2943.5 604.7,2943.5 632.3,2943.5 660,2943.5 687.6,2943.5 715.3,2943.5 743,2943.5 770.6,2943.5 798.2,2943.5 825.9,2943.5 853.5,2943.5 881.2,2943.5 908.8,2943.5 936.5,2943.5 964.1,2943.5 991.8,2943.5 1019.5,2943.5 1047.1,2943.5 1074.8,2943.5 1102.4,2943.5 1130,2943.5 1157.7,2943.5 1185.3,2943.5 1213,2943.5 1240.6,2943.5 1268.3,2943.5 1296,2943.5 1323.6,2943.5 1351.2,2943.5 1378.9,2943.5 1406.5,2943.5 1434.2,2943.5 1461.8,2943.5 1489.5,2943.5 1517.2,2943.5 1544.8,2943.5 1572.5,2943.5 1600.1,2943.5 1627.8,2943.5 1655.4,2943.5 1683,2943.5 1710.7,2943.5 1738.3,2943.5 1766,2943.5 1793.6,2943.5 1821.3,2943.5 1849,2943.5 1876.6,2943.5 1904.2,2943.5 1931.9,2943.5 1959.5,2943.5 1987.2,2943.5 2014.8,2943.5 2042.5,2943.5 2070.1,2943.5 2097.8,2943.5 2125.4,2943.5" fill="none" stroke="#000000" stroke-width="3.3" stroke-linejoin="round" stroke-linecap="round"/>
<polyline points="328.2,2781.8 355.8,2775.5 383.5,2757.2 411.1,2733.4 438.8,2718.3 466.4,2710.8 494.1,2631.9 521.8,2653.7 549.4,2674.5 577,2594.3 604.7,2482.8 632.3,2445.2 660,2422.6 687.6,2397 715.3,2372.2 743,2375.3 770.6,2369.1 798.2,2387.9 825.9,2372.2 853.5,2435.8 881.2,2476.5 908.8,2500.6 936.5,2534.2 964.1,2943.5 991.8,2943.5 1019.5,2943.5 1047.1,2943.5 1074.8,2943.5 1102.4,2943.5 1130,2943.5 1157.7,2943.5 1185.3,2943.5 1213,2943.5 1240.6,2943.5 1268.3,2943.5 1296,2943.5 1323.6,2943.5 1351.2,2943.5 1378.9,2943.5 1406.5,2943.5 1434.2,2943.5 1461.8,2943.5 1489.5,2943.5 1517.2,2943.5 1544.8,2943.5 1572.5,2943.5 1600.1,2943.5 1627.8,2943.5 1655.4,2943.5 1683,2943.5 1710.7,2943.5 1738.3,2943.5 1766,2943.5 1793.6,2943.5 1821.3,2943.5 1849,2943.5 1876.6,2943.5 1904.2,2943.5 1931.9,2943.5 1959.5,2943.5 1987.2,2943.5 2014.8,2943.5 2042.5,2943.5 2070.1,2943.5 2097.8,2943.5 2125.4,2943.5" fill="none" stroke="#ff0000" stroke-width="3.3" stroke-linejoin="round" stroke-linecap="round"/>
<polyline points="328.2,2506.1 355.8,2497.7 383.5,2506.6 411.1,2513.7 438.8,2565.9 466.4,2561.3 494.1,2599.4 521.8,2599.4 549.4,2575.8 577,2578.3 604.7,2578.3 632.3,2571.8 660,2557.5 687.6,2553.8 715.3,2534.3 743,2533.7 770.6,2508 798.2,2511.7 825.9,2509.5 853.5,2500.1 881.2,2527.4 908.8,2518 936.5,2503.9 964.1,2525.8 991.8,2529.6 1019.5,2518 1047.1,2525.8 1074.8,2568.9 1102.4,2548.5 1130,2587 1157.7,2599.6 1185.3,2605.2 1213,2627.1 1240.6,2633.1 1268.3,2654.4 1296,2675.4 1323.6,2700.4 1351.2,2709.8 1378.9,2711.4 1406.5,2719.2 1434.2,2733.7 1461.8,2746.2 1489.5,2742.6 1517.2,2749.8 1544.8,2775.4 1572.5,2773.9 1600.1,2782.7 1627.8,2778 1655.4,2791.1 1683,2799.9 1710.7,2943.5 1738.3,2943.5 1766,2943.5 1793.6,2943.5 1821.3,2943.5 1849,2943.5 1876.6,2943.5 1904.2,2943.5 1931.9,2943.5 1959.5,2943.5 1987.2,2943.5 2014.8,2943.5 2042.5,2943.5 2070.1,2943.5 2097.8,2943.5 2125.4,2943.5" fill="none" stroke="#008000" stroke-width="3.3" stroke-linejoin="round" stroke-linecap="round"/>
<polyline points="328.2,2658.3 355.8,2563 383.5,2519.6 411.1,2595.1 438.8,2580.1 466.4,2547.5 494.1,2525.4 521.8,2532 549.4,2482 577,2449.3 604.7,2393 632.3,2340.9 660,2301.7 687.6,2274.8 715.3,2221.8 743,2204.6 770.6,2174.2 798.2,2174.8 825.9,2152.3 853.5,2145.1 881.2,2143.8 908.8,2156 936.5,2155.1 964.1,2147.6 991.8,2143.8 1019.5,2199.3 1047.1,2279.5 1074.8,2332.6 1102.4,2361.7 1130,2398.7 1157.7,2407.8 1185.3,2436.3 1213,2475.4 1240.6,2496.4 1268.3,2943.5 1296,2943.5 1323.6,2943.5 1351.2,2943.5 1378.9,2943.5 1406.5,2943.5 1434.2,2943.5 1461.8,2943.5 1489.5,2943.5 1517.2,2943.5 1544.8,2943.5 1572.5,2943.5 1600.1,2943.5 1627.8,2943.5 1655.4,2943.5 1683,2943.5 1710.7,2943.5 1738.3,2943.5 1766,2943.5 1793.6,2943.5 1821.3,2943.5 1849,2943.5 1876.6,2943.5 1904.2,2943.5 1931.9,2943.5 1959.5,2943.5 1987.2,2943.5 2014.8,2943.5 2042.5,2943.5 2070.1,2943.5 2097.8,2943.5 2125.4,2943.5" fill="none" stroke="#c000c0" stroke-width="3.3" stroke-linejoin="round" stroke-linecap="round"/>
<polyline points="328.2,2527.9 355.8,2515.3 383.5,2499 411.1,2492.8 438.8,2467.7 466.4,2483.5 494.1,2476.5 521.8,2492.8 549.4,2467.7 577,2416.3 604.7,2382.5 632.3,2344 660,2315.2 687.6,2252.2 715.3,2220.3 743,2185.2 770.6,2198.3 798.2,2163.2 825.9,2166.4 853.5,2163.2 881.2,2180.2 908.8,2152.9 936.5,2182.7 964.1,2175.8 991.8,2197.7 1019.5,2220.9 1047.1,2274.1 1074.8,2334.7 1102.4,2379.2 1130,2403.6 1157.7,2429.6 1185.3,2464.7 1213,2505.5 1240.6,2508.6 1268.3,2492.9 1296,2943.5 1323.6,2943.5 1351.2,2943.5 1378.9,2943.5 1406.5,2943.5 1434.2,2943.5 1461.8,2943.5 1489.5,2943.5 1517.2,2943.5 1544.8,2943.5 1572.5,2943.5 1600.1,2943.5 1627.8,2943.5 1655.4,2943.5 1683,2943.5 1710.7,2943.5 1738.3,2943.5 1766,2943.5 1793.6,2943.5 1821.3,2943.5 1849,2943.5 1876.6,2943.5 1904.2,2943.5 1931.9,2943.5 1959.5,2943.5 1987.2,2943.5 2014.8,2943.5 2042.5,2943.5 2070.1,2943.5 2097.8,2943.5 2125.4,2943.5" fill="none" stroke="#0000ff" stroke-width="3.3" stroke-linejoin="round" stroke-linecap="round"/>
<path d="M328.2 2925.5L345.5 2943.5L328.2 2961.5L310.9 2943.5ZM355.8 2925.5L373.1 2943.5L355.8 2961.5L338.5 2943.5ZM383.5 2925.5L400.8 2943.5L383.5 2961.5L366.2 2943.5ZM411.1 2925.5L428.4 2943.5L411.1 2961.5L393.8 2943.5ZM438.8 2925.5L456.1 2943.5L438.8 2961.5L421.5 2943.5ZM466.4 2925.5L483.8 2943.5L466.4 2961.5L449.1 2943.5ZM494.1 2925.5L511.4 2943.5L494.1 2961.5L476.8 2943.5ZM521.8 2925.5L539 2943.5L521.8 2961.5L504.4 2943.5ZM549.4 2925.5L566.7 2943.5L549.4 2961.5L532.1 2943.5ZM577 2925.5L594.3 2943.5L577 2961.5L559.8 2943.5ZM604.7 2925.5L622 2943.5L604.7 2961.5L587.4 2943.5ZM632.3 2925.5L649.6 2943.5L632.3 2961.5L615 2943.5ZM660 2925.5L677.3 2943.5L660 2961.5L642.7 2943.5ZM687.6 2925.5L704.9 2943.5L687.6 2961.5L670.4 2943.5ZM715.3 2925.5L732.6 2943.5L715.3 2961.5L698 2943.5ZM743 2925.5L760.2 2943.5L743 2961.5L725.7 2943.5ZM770.6 2925.5L787.9 2943.5L770.6 2961.5L753.3 2943.5ZM798.2 2925.5L815.5 2943.5L798.2 2961.5L781 2943.5ZM825.9 2925.5L843.2 2943.5L825.9 2961.5L808.6 2943.5ZM853.5 2925.5L870.8 2943.5L853.5 2961.5L836.2 2943.5ZM881.2 2925.5L898.5 2943.5L881.2 2961.5L863.9 2943.5ZM908.8 2925.5L926.1 2943.5L908.8 2961.5L891.5 2943.5ZM936.5 2925.5L953.8 2943.5L936.5 2961.5L919.2 2943.5ZM964.1 2925.5L981.4 2943.5L964.1 2961.5L946.8 2943.5ZM991.8 2925.5L1009.1 2943.5L991.8 2961.5L974.5 2943.5ZM1019.5 2925.5L1036.8 2943.5L1019.5 2961.5L1002.2 2943.5ZM1047.1 2925.5L1064.4 2943.5L1047.1 2961.5L1029.8 2943.5ZM1074.8 2925.5L1092 2943.5L1074.8 2961.5L1057.5 2943.5ZM1102.4 2925.5L1119.7 2943.5L1102.4 2961.5L1085.1 2943.5ZM1130 2925.5L1147.3 2943.5L1130 2961.5L1112.8 2943.5ZM1157.7 2925.5L1175 2943.5L1157.7 2961.5L1140.4 2943.5ZM1185.3 2925.5L1202.6 2943.5L1185.3 2961.5L1168 2943.5ZM1213 2925.5L1230.3 2943.5L1213 2961.5L1195.7 2943.5ZM1240.6 2925.5L1257.9 2943.5L1240.6 2961.5L1223.3 2943.5ZM1268.3 2925.5L1285.6 2943.5L1268.3 2961.5L1251 2943.5ZM1296 2925.5L1313.2 2943.5L1296 2961.5L1278.7 2943.5ZM1323.6 2925.5L1340.9 2943.5L1323.6 2961.5L1306.3 2943.5ZM1351.2 2925.5L1368.5 2943.5L1351.2 2961.5L1334 2943.5ZM1378.9 2925.5L1396.2 2943.5L1378.9 2961.5L1361.6 2943.5ZM1406.5 2925.5L1423.8 2943.5L1406.5 2961.5L1389.2 2943.5ZM1434.2 2925.5L1451.5 2943.5L1434.2 2961.5L1416.9 2943.5ZM1461.8 2925.5L1479.1 2943.5L1461.8 2961.5L1444.5 2943.5ZM1489.5 2925.5L1506.8 2943.5L1489.5 2961.5L1472.2 2943.5ZM1517.2 2925.5L1534.5 2943.5L1517.2 2961.5L1499.9 2943.5ZM1544.8 2925.5L1562.1 2943.5L1544.8 2961.5L1527.5 2943.5ZM1572.5 2925.5L1589.8 2943.5L1572.5 2961.5L1555.2 2943.5ZM1600.1 2925.5L1617.4 2943.5L1600.1 2961.5L1582.8 2943.5ZM1627.8 2925.5L1645 2943.5L1627.8 2961.5L1610.5 2943.5ZM1655.4 2925.5L1672.7 2943.5L1655.4 2961.5L1638.1 2943.5ZM1683 2925.5L1700.3 2943.5L1683 2961.5L1665.8 2943.5ZM1710.7 2925.5L1728 2943.5L1710.7 2961.5L1693.4 2943.5ZM1738.3 2925.5L1755.6 2943.5L1738.3 2961.5L1721 2943.5ZM1766 2925.5L1783.3 2943.5L1766 2961.5L1748.7 2943.5ZM1793.6 2925.5L1810.9 2943.5L1793.6 2961.5L1776.3 2943.5ZM1821.3 2925.5L1838.6 2943.5L1821.3 2961.5L1804 2943.5ZM1849 2925.5L1866.2 2943.5L1849 2961.5L1831.7 2943.5ZM1876.6 2925.5L1893.9 2943.5L1876.6 2961.5L1859.3 2943.5ZM1904.2 2925.5L1921.5 2943.5L1904.2 2961.5L1887 2943.5ZM1931.9 2925.5L1949.2 2943.5L1931.9 2961.5L1914.6 2943.5ZM1959.5 2925.5L1976.8 2943.5L1959.5 2961.5L1942.2 2943.5ZM1987.2 2925.5L2004.5 2943.5L1987.2 2961.5L1969.9 2943.5ZM2014.8 2925.5L2032.1 2943.5L2014.8 2961.5L1997.5 2943.5ZM2042.5 2925.5L2059.8 2943.5L2042.5 2961.5L2025.2 2943.5ZM2070.1 2925.5L2087.4 2943.5L2070.1 2961.5L2052.8 2943.5ZM2097.8 2925.5L2115.1 2943.5L2097.8 2961.5L2080.5 2943.5ZM2125.4 2925.5L2142.8 2943.5L2125.4 2961.5L2108.1 2943.5Z" fill="#000000" stroke="#000" stroke-width="4.0" stroke-linejoin="round"/>
<path d="M313.5 2781.8a14.7 14.7 0 1 0 29.4 0a14.7 14.7 0 1 0 -29.4 0ZM341.1 2775.5a14.7 14.7 0 1 0 29.4 0a14.7 14.7 0 1 0 -29.4 0ZM368.8 2757.2a14.7 14.7 0 1 0 29.4 0a14.7 14.7 0 1 0 -29.4 0ZM396.4 2733.4a14.7 14.7 0 1 0 29.4 0a14.7 14.7 0 1 0 -29.4 0ZM424.1 2718.3a14.7 14.7 0 1 0 29.4 0a14.7 14.7 0 1 0 -29.4 0ZM451.8 2710.8a14.7 14.7 0 1 0 29.4 0a14.7 14.7 0 1 0 -29.4 0ZM479.4 2631.9a14.7 14.7 0 1 0 29.4 0a14.7 14.7 0 1 0 -29.4 0ZM507.1 2653.7a14.7 14.7 0 1 0 29.4 0a14.7 14.7 0 1 0 -29.4 0ZM534.7 2674.5a14.7 14.7 0 1 0 29.4 0a14.7 14.7 0 1 0 -29.4 0ZM562.3 2594.3a14.7 14.7 0 1 0 29.4 0a14.7 14.7 0 1 0 -29.4 0ZM590 2482.8a14.7 14.7 0 1 0 29.4 0a14.7 14.7 0 1 0 -29.4 0ZM617.6 2445.2a14.7 14.7 0 1 0 29.4 0a14.7 14.7 0 1 0 -29.4 0ZM645.3 2422.6a14.7 14.7 0 1 0 29.4 0a14.7 14.7 0 1 0 -29.4 0ZM672.9 2397a14.7 14.7 0 1 0 29.4 0a14.7 14.7 0 1 0 -29.4 0ZM700.6 2372.2a14.7 14.7 0 1 0 29.4 0a14.7 14.7 0 1 0 -29.4 0ZM728.2 2375.3a14.7 14.7 0 1 0 29.4 0a14.7 14.7 0 1 0 -29.4 0ZM755.9 2369.1a14.7 14.7 0 1 0 29.4 0a14.7 14.7 0 1 0 -29.4 0ZM783.5 2387.9a14.7 14.7 0 1 0 29.4 0a14.7 14.7 0 1 0 -29.4 0ZM811.2 2372.2a14.7 14.7 0 1 0 29.4 0a14.7 14.7 0 1 0 -29.4 0ZM838.8 2435.8a14.7 14.7 0 1 0 29.4 0a14.7 14.7 0 1 0 -29.4 0ZM866.5 2476.5a14.7 14.7 0 1 0 29.4 0a14.7 14.7 0 1 0 -29.4 0ZM894.1 2500.6a14.7 14.7 0 1 0 29.4 0a14.7 14.7 0 1 0 -29.4 0ZM921.8 2534.2a14.7 14.7 0 1 0 29.4 0a14.7 14.7 0 1 0 -29.4 0ZM949.4 2943.5a14.7 14.7 0 1 0 29.4 0a14.7 14.7 0 1 0 -29.4 0ZM977.1 2943.5a14.7 14.7 0 1 0 29.4 0a14.7 14.7 0 1 0 -29.4 0ZM1004.8 2943.5a14.7 14.7 0 1 0 29.4 0a14.7 14.7 0 1 0 -29.4 0ZM1032.4 2943.5a14.7 14.7 0 1 0 29.4 0a14.7 14.7 0 1 0 -29.4 0ZM1060 2943.5a14.7 14.7 0 1 0 29.4 0a14.7 14.7 0 1 0 -29.4 0ZM1087.7 2943.5a14.7 14.7 0 1 0 29.4 0a14.7 14.7 0 1 0 -29.4 0ZM1115.3 2943.5a14.7 14.7 0 1 0 29.4 0a14.7 14.7 0 1 0 -29.4 0ZM1143 2943.5a14.7 14.7 0 1 0 29.4 0a14.7 14.7 0 1 0 -29.4 0ZM1170.6 2943.5a14.7 14.7 0 1 0 29.4 0a14.7 14.7 0 1 0 -29.4 0ZM1198.3 2943.5a14.7 14.7 0 1 0 29.4 0a14.7 14.7 0 1 0 -29.4 0ZM1225.9 2943.5a14.7 14.7 0 1 0 29.4 0a14.7 14.7 0 1 0 -29.4 0ZM1253.6 2943.5a14.7 14.7 0 1 0 29.4 0a14.7 14.7 0 1 0 -29.4 0ZM1281.2 2943.5a14.7 14.7 0 1 0 29.4 0a14.7 14.7 0 1 0 -29.4 0ZM1308.9 2943.5a14.7 14.7 0 1 0 29.4 0a14.7 14.7 0 1 0 -29.4 0ZM1336.5 2943.5a14.7 14.7 0 1 0 29.4 0a14.7 14.7 0 1 0 -29.4 0ZM1364.2 2943.5a14.7 14.7 0 1 0 29.4 0a14.7 14.7 0 1 0 -29.4 0ZM1391.8 2943.5a14.7 14.7 0 1 0 29.4 0a14.7 14.7 0 1 0 -29.4 0ZM1419.5 2943.5a14.7 14.7 0 1 0 29.4 0a14.7 14.7 0 1 0 -29.4 0ZM1447.1 2943.5a14.7 14.7 0 1 0 29.4 0a14.7 14.7 0 1 0 -29.4 0ZM1474.8 2943.5a14.7 14.7 0 1 0 29.4 0a14.7 14.7 0 1 0 -29.4 0ZM1502.5 2943.5a14.7 14.7 0 1 0 29.4 0a14.7 14.7 0 1 0 -29.4 0ZM1530.1 2943.5a14.7 14.7 0 1 0 29.4 0a14.7 14.7 0 1 0 -29.4 0ZM1557.8 2943.5a14.7 14.7 0 1 0 29.4 0a14.7 14.7 0 1 0 -29.4 0ZM1585.4 2943.5a14.7 14.7 0 1 0 29.4 0a14.7 14.7 0 1 0 -29.4 0ZM1613 2943.5a14.7 14.7 0 1 0 29.4 0a14.7 14.7 0 1 0 -29.4 0ZM1640.7 2943.5a14.7 14.7 0 1 0 29.4 0a14.7 14.7 0 1 0 -29.4 0ZM1668.3 2943.5a14.7 14.7 0 1 0 29.4 0a14.7 14.7 0 1 0 -29.4 0ZM1696 2943.5a14.7 14.7 0 1 0 29.4 0a14.7 14.7 0 1 0 -29.4 0ZM1723.6 2943.5a14.7 14.7 0 1 0 29.4 0a14.7 14.7 0 1 0 -29.4 0ZM1751.3 2943.5a14.7 14.7 0 1 0 29.4 0a14.7 14.7 0 1 0 -29.4 0ZM1778.9 2943.5a14.7 14.7 0 1 0 29.4 0a14.7 14.7 0 1 0 -29.4 0ZM1806.6 2943.5a14.7 14.7 0 1 0 29.4 0a14.7 14.7 0 1 0 -29.4 0ZM1834.2 2943.5a14.7 14.7 0 1 0 29.4 0a14.7 14.7 0 1 0 -29.4 0ZM1861.9 2943.5a14.7 14.7 0 1 0 29.4 0a14.7 14.7 0 1 0 -29.4 0ZM1889.5 2943.5a14.7 14.7 0 1 0 29.4 0a14.7 14.7 0 1 0 -29.4 0ZM1917.2 2943.5a14.7 14.7 0 1 0 29.4 0a14.7 14.7 0 1 0 -29.4 0ZM1944.8 2943.5a14.7 14.7 0 1 0 29.4 0a14.7 14.7 0 1 0 -29.4 0ZM1972.5 2943.5a14.7 14.7 0 1 0 29.4 0a14.7 14.7 0 1 0 -29.4 0ZM2000.1 2943.5a14.7 14.7 0 1 0 29.4 0a14.7 14.7 0 1 0 -29.4 0ZM2027.8 2943.5a14.7 14.7 0 1 0 29.4 0a14.7 14.7 0 1 0 -29.4 0ZM2055.4 2943.5a14.7 14.7 0 1 0 29.4 0a14.7 14.7 0 1 0 -29.4 0ZM2083.1 2943.5a14.7 14.7 0 1 0 29.4 0a14.7 14.7 0 1 0 -29.4 0ZM2110.8 2943.5a14.7 14.7 0 1 0 29.4 0a14.7 14.7 0 1 0 -29.4 0Z" fill="#ff0000" stroke="#000" stroke-width="4.0" stroke-linejoin="round"/>
<path d="M328.2 2488.4L343.6 2515L312.8 2515ZM355.8 2480L371.2 2506.6L340.4 2506.6ZM383.5 2488.8L398.9 2515.5L368.1 2515.5ZM411.1 2495.9L426.5 2522.5L395.8 2522.5ZM438.8 2548.1L454.2 2574.8L423.4 2574.8ZM466.4 2543.5L481.8 2570.2L451.1 2570.2ZM494.1 2581.6L509.5 2608.3L478.7 2608.3ZM521.8 2581.6L537.1 2608.3L506.4 2608.3ZM549.4 2558L564.8 2584.7L534 2584.7ZM577 2560.5L592.4 2587.2L561.6 2587.2ZM604.7 2560.5L620.1 2587.2L589.3 2587.2ZM632.3 2554L647.7 2580.7L616.9 2580.7ZM660 2539.7L675.4 2566.4L644.6 2566.4ZM687.6 2536L703 2562.6L672.2 2562.6ZM715.3 2516.5L730.7 2543.2L699.9 2543.2ZM743 2515.9L758.4 2542.6L727.6 2542.6ZM770.6 2490.2L786 2516.9L755.2 2516.9ZM798.2 2494L813.6 2520.6L782.9 2520.6ZM825.9 2491.8L841.3 2518.4L810.5 2518.4ZM853.5 2482.4L868.9 2509L838.1 2509ZM881.2 2509.6L896.6 2536.3L865.8 2536.3ZM908.8 2500.2L924.2 2526.9L893.4 2526.9ZM936.5 2486.1L951.9 2512.8L921.1 2512.8ZM964.1 2508.1L979.5 2534.7L948.7 2534.7ZM991.8 2511.8L1007.2 2538.5L976.4 2538.5ZM1019.5 2500.2L1034.9 2526.9L1004.1 2526.9ZM1047.1 2508.1L1062.5 2534.7L1031.7 2534.7ZM1074.8 2551.1L1090.2 2577.8L1059.3 2577.8ZM1102.4 2530.7L1117.8 2557.4L1087 2557.4ZM1130 2569.3L1145.5 2595.9L1114.6 2595.9ZM1157.7 2581.8L1173.1 2608.5L1142.3 2608.5ZM1185.3 2587.4L1200.8 2614.1L1169.9 2614.1ZM1213 2609.4L1228.4 2636L1197.6 2636ZM1240.6 2615.3L1256 2642L1225.2 2642ZM1268.3 2636.6L1283.7 2663.3L1252.9 2663.3ZM1296 2657.6L1311.4 2684.3L1280.5 2684.3ZM1323.6 2682.7L1339 2709.3L1308.2 2709.3ZM1351.2 2692.1L1366.7 2718.7L1335.8 2718.7ZM1378.9 2693.6L1394.3 2720.3L1363.5 2720.3ZM1406.5 2701.5L1422 2728.1L1391.1 2728.1ZM1434.2 2715.9L1449.6 2742.5L1418.8 2742.5ZM1461.8 2728.4L1477.2 2755.1L1446.4 2755.1ZM1489.5 2724.8L1504.9 2751.4L1474.1 2751.4ZM1517.2 2732L1532.6 2758.6L1501.8 2758.6ZM1544.8 2757.7L1560.2 2784.3L1529.4 2784.3ZM1572.5 2756.1L1587.9 2782.8L1557 2782.8ZM1600.1 2764.9L1615.5 2791.5L1584.7 2791.5ZM1627.8 2760.2L1643.2 2786.8L1612.3 2786.8ZM1655.4 2773.3L1670.8 2800L1640 2800ZM1683 2782.1L1698.5 2808.8L1667.6 2808.8ZM1710.7 2925.7L1726.1 2952.4L1695.3 2952.4ZM1738.3 2925.7L1753.8 2952.4L1722.9 2952.4ZM1766 2925.7L1781.4 2952.4L1750.6 2952.4ZM1793.6 2925.7L1809 2952.4L1778.2 2952.4ZM1821.3 2925.7L1836.7 2952.4L1805.9 2952.4ZM1849 2925.7L1864.4 2952.4L1833.5 2952.4ZM1876.6 2925.7L1892 2952.4L1861.2 2952.4ZM1904.2 2925.7L1919.7 2952.4L1888.8 2952.4ZM1931.9 2925.7L1947.3 2952.4L1916.5 2952.4ZM1959.5 2925.7L1975 2952.4L1944.1 2952.4ZM1987.2 2925.7L2002.6 2952.4L1971.8 2952.4ZM2014.8 2925.7L2030.2 2952.4L1999.4 2952.4ZM2042.5 2925.7L2057.9 2952.4L2027.1 2952.4ZM2070.1 2925.7L2085.5 2952.4L2054.7 2952.4ZM2097.8 2925.7L2113.2 2952.4L2082.4 2952.4ZM2125.4 2925.7L2140.8 2952.4L2110 2952.4Z" fill="#008000" stroke="#000" stroke-width="4.0" stroke-linejoin="round"/>
<path d="M328.2 2676.1L343.6 2649.4L312.8 2649.4ZM355.8 2580.8L371.2 2554.1L340.4 2554.1ZM383.5 2537.3L398.9 2510.7L368.1 2510.7ZM411.1 2612.9L426.5 2586.2L395.8 2586.2ZM438.8 2597.9L454.2 2571.2L423.4 2571.2ZM466.4 2565.3L481.8 2538.6L451.1 2538.6ZM494.1 2543.2L509.5 2516.6L478.7 2516.6ZM521.8 2549.7L537.1 2523.1L506.4 2523.1ZM549.4 2499.7L564.8 2473.1L534 2473.1ZM577 2467L592.4 2440.4L561.6 2440.4ZM604.7 2410.8L620.1 2384.1L589.3 2384.1ZM632.3 2358.6L647.7 2332L616.9 2332ZM660 2319.5L675.4 2292.8L644.6 2292.8ZM687.6 2292.5L703 2265.9L672.2 2265.9ZM715.3 2239.6L730.7 2212.9L699.9 2212.9ZM743 2222.4L758.4 2195.7L727.6 2195.7ZM770.6 2192L786 2165.3L755.2 2165.3ZM798.2 2192.6L813.6 2165.9L782.9 2165.9ZM825.9 2170.1L841.3 2143.4L810.5 2143.4ZM853.5 2162.8L868.9 2136.2L838.1 2136.2ZM881.2 2161.6L896.6 2134.9L865.8 2134.9ZM908.8 2173.8L924.2 2147.1L893.4 2147.1ZM936.5 2172.9L951.9 2146.2L921.1 2146.2ZM964.1 2165.4L979.5 2138.7L948.7 2138.7ZM991.8 2161.6L1007.2 2134.9L976.4 2134.9ZM1019.5 2217L1034.9 2190.4L1004.1 2190.4ZM1047.1 2297.2L1062.5 2270.6L1031.7 2270.6ZM1074.8 2350.4L1090.2 2323.7L1059.3 2323.7ZM1102.4 2379.5L1117.8 2352.8L1087 2352.8ZM1130 2416.5L1145.5 2389.8L1114.6 2389.8ZM1157.7 2425.5L1173.1 2398.9L1142.3 2398.9ZM1185.3 2454.1L1200.8 2427.4L1169.9 2427.4ZM1213 2493.2L1228.4 2466.5L1197.6 2466.5ZM1240.6 2514.2L1256 2487.5L1225.2 2487.5ZM1268.3 2961.3L1283.7 2934.6L1252.9 2934.6ZM1296 2961.3L1311.4 2934.6L1280.5 2934.6ZM1323.6 2961.3L1339 2934.6L1308.2 2934.6ZM1351.2 2961.3L1366.7 2934.6L1335.8 2934.6ZM1378.9 2961.3L1394.3 2934.6L1363.5 2934.6ZM1406.5 2961.3L1422 2934.6L1391.1 2934.6ZM1434.2 2961.3L1449.6 2934.6L1418.8 2934.6ZM1461.8 2961.3L1477.2 2934.6L1446.4 2934.6ZM1489.5 2961.3L1504.9 2934.6L1474.1 2934.6ZM1517.2 2961.3L1532.6 2934.6L1501.8 2934.6ZM1544.8 2961.3L1560.2 2934.6L1529.4 2934.6ZM1572.5 2961.3L1587.9 2934.6L1557 2934.6ZM1600.1 2961.3L1615.5 2934.6L1584.7 2934.6ZM1627.8 2961.3L1643.2 2934.6L1612.3 2934.6ZM1655.4 2961.3L1670.8 2934.6L1640 2934.6ZM1683 2961.3L1698.5 2934.6L1667.6 2934.6ZM1710.7 2961.3L1726.1 2934.6L1695.3 2934.6ZM1738.3 2961.3L1753.8 2934.6L1722.9 2934.6ZM1766 2961.3L1781.4 2934.6L1750.6 2934.6ZM1793.6 2961.3L1809 2934.6L1778.2 2934.6ZM1821.3 2961.3L1836.7 2934.6L1805.9 2934.6ZM1849 2961.3L1864.4 2934.6L1833.5 2934.6ZM1876.6 2961.3L1892 2934.6L1861.2 2934.6ZM1904.2 2961.3L1919.7 2934.6L1888.8 2934.6ZM1931.9 2961.3L1947.3 2934.6L1916.5 2934.6ZM1959.5 2961.3L1975 2934.6L1944.1 2934.6ZM1987.2 2961.3L2002.6 2934.6L1971.8 2934.6ZM2014.8 2961.3L2030.2 2934.6L1999.4 2934.6ZM2042.5 2961.3L2057.9 2934.6L2027.1 2934.6ZM2070.1 2961.3L2085.5 2934.6L2054.7 2934.6ZM2097.8 2961.3L2113.2 2934.6L2082.4 2934.6ZM2125.4 2961.3L2140.8 2934.6L2110 2934.6Z" fill="#c000c0" stroke="#000" stroke-width="4.0" stroke-linejoin="round"/>
<path d="M315.1 2514.8h26.2v26.2h-26.2ZM342.7 2502.2h26.2v26.2h-26.2ZM370.4 2485.9h26.2v26.2h-26.2ZM398 2479.7h26.2v26.2h-26.2ZM425.7 2454.6h26.2v26.2h-26.2ZM453.3 2470.4h26.2v26.2h-26.2ZM481 2463.4h26.2v26.2h-26.2ZM508.6 2479.7h26.2v26.2h-26.2ZM536.3 2454.6h26.2v26.2h-26.2ZM563.9 2403.2h26.2v26.2h-26.2ZM591.6 2369.4h26.2v26.2h-26.2ZM619.2 2330.9h26.2v26.2h-26.2ZM646.9 2302.1h26.2v26.2h-26.2ZM674.5 2239.1h26.2v26.2h-26.2ZM702.2 2207.2h26.2v26.2h-26.2ZM729.9 2172.1h26.2v26.2h-26.2ZM757.5 2185.2h26.2v26.2h-26.2ZM785.1 2150.1h26.2v26.2h-26.2ZM812.8 2153.3h26.2v26.2h-26.2ZM840.4 2150.1h26.2v26.2h-26.2ZM868.1 2167.1h26.2v26.2h-26.2ZM895.7 2139.8h26.2v26.2h-26.2ZM923.4 2169.6h26.2v26.2h-26.2ZM951 2162.7h26.2v26.2h-26.2ZM978.7 2184.6h26.2v26.2h-26.2ZM1006.4 2207.8h26.2v26.2h-26.2ZM1034 2261h26.2v26.2h-26.2ZM1061.7 2321.6h26.2v26.2h-26.2ZM1089.3 2366.1h26.2v26.2h-26.2ZM1117 2390.5h26.2v26.2h-26.2ZM1144.6 2416.5h26.2v26.2h-26.2ZM1172.2 2451.6h26.2v26.2h-26.2ZM1199.9 2492.4h26.2v26.2h-26.2ZM1227.5 2495.5h26.2v26.2h-26.2ZM1255.2 2479.8h26.2v26.2h-26.2ZM1282.9 2930.4h26.2v26.2h-26.2ZM1310.5 2930.4h26.2v26.2h-26.2ZM1338.2 2930.4h26.2v26.2h-26.2ZM1365.8 2930.4h26.2v26.2h-26.2ZM1393.5 2930.4h26.2v26.2h-26.2ZM1421.1 2930.4h26.2v26.2h-26.2ZM1448.8 2930.4h26.2v26.2h-26.2ZM1476.4 2930.4h26.2v26.2h-26.2ZM1504.1 2930.4h26.2v26.2h-26.2ZM1531.7 2930.4h26.2v26.2h-26.2ZM1559.4 2930.4h26.2v26.2h-26.2ZM1587 2930.4h26.2v26.2h-26.2ZM1614.7 2930.4h26.2v26.2h-26.2ZM1642.3 2930.4h26.2v26.2h-26.2ZM1670 2930.4h26.2v26.2h-26.2ZM1697.6 2930.4h26.2v26.2h-26.2ZM1725.2 2930.4h26.2v26.2h-26.2ZM1752.9 2930.4h26.2v26.2h-26.2ZM1780.5 2930.4h26.2v26.2h-26.2ZM1808.2 2930.4h26.2v26.2h-26.2ZM1835.9 2930.4h26.2v26.2h-26.2ZM1863.5 2930.4h26.2v26.2h-26.2ZM1891.2 2930.4h26.2v26.2h-26.2ZM1918.8 2930.4h26.2v26.2h-26.2ZM1946.5 2930.4h26.2v26.2h-26.2ZM1974.1 2930.4h26.2v26.2h-26.2ZM2001.8 2930.4h26.2v26.2h-26.2ZM2029.4 2930.4h26.2v26.2h-26.2ZM2057 2930.4h26.2v26.2h-26.2ZM2084.7 2930.4h26.2v26.2h-26.2ZM2112.3 2930.4h26.2v26.2h-26.2Z" fill="#0000c0" stroke="#000" stroke-width="4.0" stroke-linejoin="round"/>
<g font-size="49.3">
<line x1="1633.3" y1="1749.3" x2="1745.3" y2="1749.3" stroke="#000000" stroke-width="4.1" stroke-linecap="round"/>
<path d="M1689.3 1731.3L1706.6 1749.3L1689.3 1767.3L1672 1749.3Z" fill="#000000" stroke="#000" stroke-width="4.0" stroke-linejoin="round"/>
<text transform="translate(1775 1765.8) scale(1.012 1.05)">Non-Catalytic</text>
<line x1="1633.3" y1="1806.2" x2="1745.3" y2="1806.2" stroke="#ff0000" stroke-width="4.1" stroke-linecap="round"/>
<path d="M1674.6 1806.2a14.7 14.7 0 1 0 29.4 0a14.7 14.7 0 1 0 -29.4 0Z" fill="#ff0000" stroke="#000" stroke-width="4.0" stroke-linejoin="round"/>
<text transform="translate(1775 1822.7) scale(1.012 1.05)">A550</text>
<line x1="1633.3" y1="1863.1" x2="1745.3" y2="1863.1" stroke="#008000" stroke-width="4.1" stroke-linecap="round"/>
<path d="M1689.3 1845.3L1704.7 1872L1673.9 1872Z" fill="#008000" stroke="#000" stroke-width="4.0" stroke-linejoin="round"/>
<text transform="translate(1775 1879.6) scale(1.012 1.05)">A650</text>
<line x1="1633.3" y1="1920" x2="1745.3" y2="1920" stroke="#c000c0" stroke-width="4.1" stroke-linecap="round"/>
<path d="M1689.3 1937.8L1704.7 1911.1L1673.9 1911.1Z" fill="#c000c0" stroke="#000" stroke-width="4.0" stroke-linejoin="round"/>
<text transform="translate(1775 1936.5) scale(1.012 1.05)">A750</text>
<line x1="1633.3" y1="1976.9" x2="1745.3" y2="1976.9" stroke="#0000ff" stroke-width="4.1" stroke-linecap="round"/>
<path d="M1676.2 1963.8h26.2v26.2h-26.2Z" fill="#0000c0" stroke="#000" stroke-width="4.0" stroke-linejoin="round"/>
<text transform="translate(1775 1993.4) scale(1.012 1.05)">A850</text>
</g>
<text x="1234" y="3162" text-anchor="middle" font-weight="bold" font-size="59" letter-spacing="0.55">Time on stream (h)</text>
</svg>
</body>
</html>
